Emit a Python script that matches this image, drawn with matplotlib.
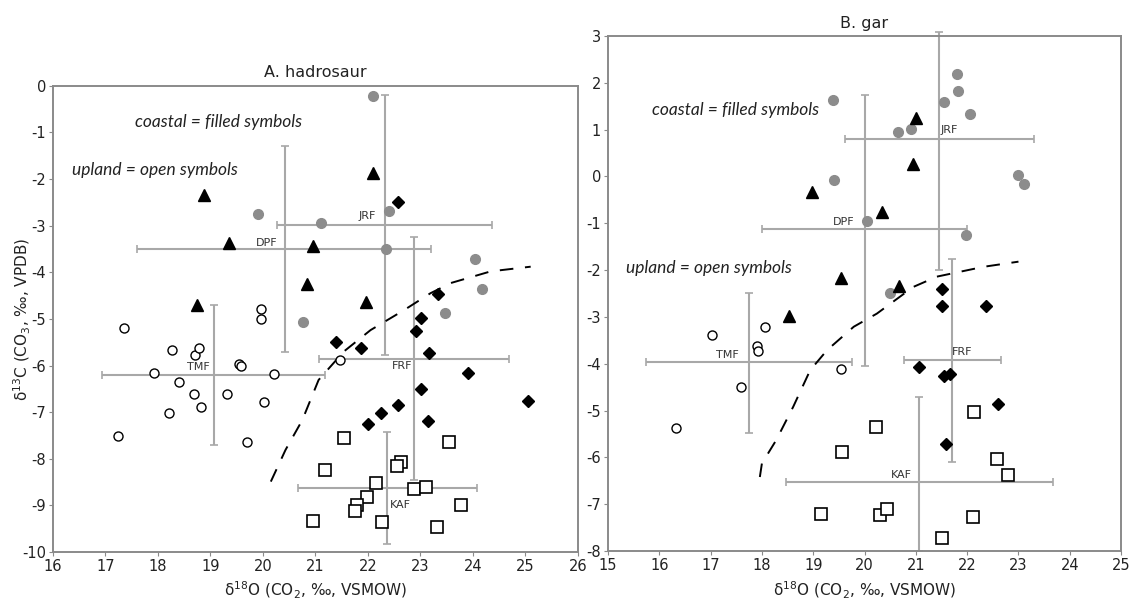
import matplotlib
matplotlib.use("Agg")
import matplotlib.pyplot as plt

plt.rcParams["axes.unicode_minus"] = False

# ---- panel A: hadrosaur ----
a_open_circ_x = [17.35, 17.23, 17.93, 18.26, 18.40, 18.21, 18.70, 18.79, 18.68, 18.82,
                 19.32, 19.54, 19.59, 19.69, 19.97, 19.97, 20.22, 20.02, 21.46]
a_open_circ_y = [-5.19, -7.51, -6.15, -5.66, -6.36, -7.02, -5.77, -5.63, -6.61, -6.90,
                 -6.62, -5.97, -6.02, -7.65, -4.79, -5.01, -6.19, -6.79, -5.88]
a_gray_circ_x = [19.90, 22.10, 21.11, 22.40, 22.34, 24.03, 24.17, 23.47, 20.77]
a_gray_circ_y = [-2.75, -0.21, -2.95, -2.69, -3.50, -3.71, -4.36, -4.88, -5.06]
a_tri_x = [18.88, 19.35, 18.74, 22.10, 20.96, 20.83, 21.97]
a_tri_y = [-2.34, -3.38, -4.71, -1.87, -3.44, -4.26, -4.63]
a_dia_x = [22.58, 23.33, 23.02, 22.91, 21.40, 21.87, 23.16, 23.91, 23.02, 25.04,
           22.58, 22.25, 22.01, 23.15]
a_dia_y = [-2.50, -4.46, -4.97, -5.26, -5.50, -5.63, -5.73, -6.16, -6.50, -6.76,
           -6.84, -7.01, -7.26, -7.20]
a_sq_x = [21.55, 23.55, 21.19, 22.63, 22.55, 22.15, 22.88, 23.10, 21.98, 21.79,
          21.76, 23.77, 20.96, 22.27, 23.31]
a_sq_y = [-7.55, -7.64, -8.25, -8.06, -8.15, -8.53, -8.65, -8.60, -8.81, -9.00,
          -9.13, -9.00, -9.33, -9.36, -9.46]
a_curve_x = [20.15, 20.43, 20.75, 21.06, 21.54, 22.05, 22.69, 23.19, 23.58, 24.34, 25.10]
a_curve_y = [-8.49, -7.81, -7.17, -6.31, -5.70, -5.24, -4.81, -4.45, -4.23, -3.98, -3.88]
# formation means with ranges: name, x, y, xmin, xmax, ymin, ymax
a_forms = [
    ("TMF", 19.06, -6.21, 16.93, 21.18, -7.70, -4.70),
    ("DPF", 20.42, -3.51, 17.60, 23.21, -5.70, -1.30),
    ("JRF", 22.33, -2.99, 20.27, 24.37, -5.77, -0.19),
    ("FRF", 22.87, -5.85, 21.06, 24.69, -8.45, -3.25),
    ("KAF", 22.37, -8.63, 20.66, 24.07, -9.83, -7.42),
]
a_form_lbl = [(18.77, -6.04), (20.08, -3.38), (21.99, -2.80), (22.65, -6.02), (22.61, -9.00)]

# ---- panel B: gar ----
b_open_circ_x = [17.03, 18.07, 17.90, 17.92, 17.59, 16.33, 19.55]
b_open_circ_y = [-3.39, -3.22, -3.62, -3.73, -4.50, -5.38, -4.12]
b_gray_circ_x = [19.38, 19.41, 20.05, 21.81, 21.83, 21.54, 22.06, 20.66, 20.91, 22.99,
                 23.10, 21.98, 20.50]
b_gray_circ_y = [1.63, -0.08, -0.95, 2.19, 1.82, 1.59, 1.34, 0.95, 1.02, 0.04,
                 -0.16, -1.26, -2.50]
b_tri_x = [18.98, 19.54, 18.53, 21.00, 20.94, 20.34, 20.67]
b_tri_y = [-0.33, -2.16, -2.98, 1.24, 0.26, -0.75, -2.33]
b_dia_x = [21.50, 21.50, 22.36, 21.07, 21.54, 21.67, 22.60, 21.58]
b_dia_y = [-2.41, -2.77, -2.77, -4.08, -4.26, -4.21, -4.86, -5.72]
b_sq_x = [20.22, 19.57, 19.15, 20.30, 20.44, 22.14, 22.58, 22.79, 22.11, 21.51]
b_sq_y = [-5.35, -5.89, -7.21, -7.24, -7.11, -5.04, -6.04, -6.37, -7.28, -7.73]
b_curve_x = [17.96, 18.00, 18.28, 18.61, 18.94, 19.27, 19.79, 20.24, 20.95, 21.41, 22.32, 23.00]
b_curve_y = [-6.42, -6.13, -5.63, -4.92, -4.14, -3.71, -3.21, -2.93, -2.36, -2.14, -1.93, -1.82]
b_forms = [
    ("TMF", 17.75, -3.97, 15.75, 19.76, -5.49, -2.49),
    ("DPF", 20.00, -1.13, 18.00, 21.99, -4.05, 1.75),
    ("JRF", 21.46, 0.81, 19.62, 23.30, -1.99, 3.09),
    ("FRF", 21.71, -3.92, 20.77, 22.65, -6.10, -1.77),
    ("KAF", 21.07, -6.52, 18.47, 23.68, -8.00, -4.71),
]
b_form_lbl = [(17.33, -3.82), (19.59, -0.97), (21.65, 0.99), (21.91, -3.75), (20.72, -6.37)]

GRAY_PT = "#8c8c8c"
BAR = "#a8a8a8"
SPINE = "#8a8a8a"
TXT = "#222222"
NOTE_FONT = ["Lato", "DejaVu Sans"]


def draw_panel(ax, d):
    for (name, x, y, x0, x1, y0, y1), (lx, ly) in zip(d["forms"], d["lbl"]):
        ax.errorbar([x], [y], xerr=[[x - x0], [x1 - x]], yerr=[[y - y0], [y1 - y]],
                    fmt="none", ecolor=BAR, elinewidth=1.5, capsize=3, capthick=1.2,
                    zorder=1, clip_on=False)
        ax.text(lx, ly, name, ha="center", va="center", fontsize=8, color="#333333",
                zorder=2)
    ax.plot(d["curve"][0], d["curve"][1], color="black", lw=1.4,
            dashes=(7, 6), zorder=2)
    ax.plot(d["oc"][0], d["oc"][1], "o", ms=6.5, mfc="white", mec="black", mew=1.0, ls="none", zorder=3)
    ax.plot(d["gc"][0], d["gc"][1], "o", ms=7, mfc=GRAY_PT, mec=GRAY_PT, ls="none", zorder=3)
    ax.plot(d["tri"][0], d["tri"][1], "^", ms=8, mfc="black", mec="black", ls="none", zorder=3)
    ax.plot(d["dia"][0], d["dia"][1], "D", ms=6.5, mfc="black", mec="black", ls="none", zorder=3)
    ax.plot(d["sq"][0], d["sq"][1], "s", ms=8, mfc="white", mec="black", mew=1.2, ls="none", zorder=3)

    for s in ax.spines.values():
        s.set_color(SPINE)
        s.set_linewidth(1.4)
    ax.tick_params(axis="both", colors=SPINE, labelcolor=TXT, labelsize=10.5,
                   length=3, direction="out", pad=2)
    ax.set_xlabel("δ$^{18}$O (CO$_2$, ‰, VSMOW)", fontsize=11, color=TXT, va="center")


fig = plt.figure(figsize=(11.29, 6.0), dpi=100)
axA = fig.add_axes([0.0469, 0.08, 0.465, 0.777])
axB = fig.add_axes([0.5385, 0.0817, 0.4545, 0.8583])

draw_panel(axA, dict(forms=a_forms, lbl=a_form_lbl, curve=(a_curve_x, a_curve_y),
                     oc=(a_open_circ_x, a_open_circ_y), gc=(a_gray_circ_x, a_gray_circ_y),
                     tri=(a_tri_x, a_tri_y), dia=(a_dia_x, a_dia_y), sq=(a_sq_x, a_sq_y)))
axA.set_xlim(16, 26)
axA.set_ylim(-10, 0)
axA.set_xticks(range(16, 27))
axA.set_yticks(range(-10, 1))
axA.set_ylabel("δ$^{13}$C (CO$_3$, ‰, VPDB)", fontsize=11, color=TXT, va="center")
axA.yaxis.set_label_coords(-0.059, 0.5)
axA.xaxis.set_label_coords(0.5, -0.0815)
axA.set_title("A. hadrosaur", fontsize=11.5, color=TXT, pad=6)
axA.text(19.15, -0.77, "coastal = filled symbols", style="italic", fontsize=12.5,
         family=NOTE_FONT, ha="center", va="center", color=TXT)
axA.text(16.36, -1.8, "upland = open symbols", style="italic", fontsize=12.5,
         family=NOTE_FONT, ha="left", va="center", color=TXT)

draw_panel(axB, dict(forms=b_forms, lbl=b_form_lbl, curve=(b_curve_x, b_curve_y),
                     oc=(b_open_circ_x, b_open_circ_y), gc=(b_gray_circ_x, b_gray_circ_y),
                     tri=(b_tri_x, b_tri_y), dia=(b_dia_x, b_dia_y), sq=(b_sq_x, b_sq_y)))
axB.set_xlim(15, 25)
axB.set_ylim(-8, 3)
axB.set_xticks(range(15, 26))
axB.set_yticks(range(-8, 4))
axB.xaxis.set_label_coords(0.5, -0.0757)
axB.set_title("B. gar", fontsize=11.5, color=TXT, pad=6)
axB.text(19.12, 1.42, "coastal = filled symbols", style="italic", fontsize=12.5,
         family=NOTE_FONT, ha="right", va="center", color=TXT)
axB.text(15.35, -1.96, "upland = open symbols", style="italic", fontsize=12.5,
         family=NOTE_FONT, ha="left", va="center", color=TXT)

fig.savefig("out.png", dpi=100)
